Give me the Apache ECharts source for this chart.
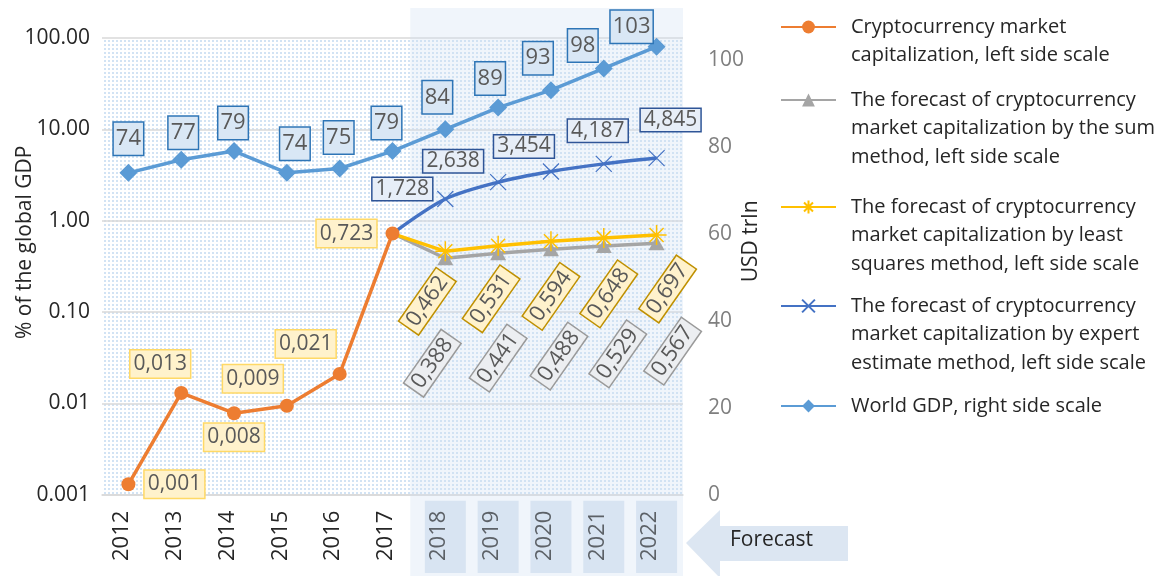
<!DOCTYPE html>
<html><head><meta charset="utf-8">
<script src="https://cdn.jsdelivr.net/npm/echarts@6/dist/echarts.min.js"></script>
<style>html,body{margin:0;padding:0;background:#fff}#c{width:1174px;height:576px}</style>
</head><body><div id="c"></div>
<script>
// ---------- data ----------
const years = ['2012','2013','2014','2015','2016','2017','2018','2019','2020','2021','2022'];
const forecastYears = ['2018','2019','2020','2021','2022'];
const cryptoCap      = [0.0013, 0.013, 0.0078, 0.0094, 0.021, 0.723, null, null, null, null, null];
const sumForecast    = [null, null, null, null, null, 0.723, 0.388, 0.441, 0.488, 0.529, 0.567];
const lsqForecast    = [null, null, null, null, null, 0.723, 0.462, 0.531, 0.594, 0.648, 0.697];
const expertForecast = [null, null, null, null, null, 0.723, 1.728, 2.638, 3.454, 4.187, 4.845];
const worldGdp       = [74, 77, 79, 74, 75, 79, 84, 89, 93, 98, 103];
const leftTickValues = [0.001, 0.01, 0.1, 1, 10, 100];
const leftTickLabels = ['0.001', '0.01', '0.10', '1.00', '10.00', '100.00'];
const rightAxisName = 'USD trln';
const leftAxisName = '% of the global GDP';
const forecastText = 'Forecast';
const seriesNames = [
  'Cryptocurrency market\ncapitalization, left side scale',
  'The forecast of cryptocurrency\nmarket capitalization by the sum\nmethod, left side scale',
  'The forecast of cryptocurrency\nmarket capitalization by least\nsquares method, left side scale',
  'The forecast of cryptocurrency\nmarket capitalization by expert\nestimate method, left side scale',
  'World GDP, right side scale'
];

// ---------- styling / layout config ----------
const FONT = '"Open Sans", "Noto Sans", sans-serif';
const TXT = '#595959';
const C = { orange:'#ed7d31', gray:'#a5a5a5', yellow:'#ffc000', dblue:'#4472c4', lblue:'#5b9bd5' };
const ROT = 55;
const offs = {
  crypto: [[46,0],[-21,-29],[0,24],[-34,-27],[-34,-30],[-46,0]],
  sum:    [null,null,null,null,null,null,[-13,105],[0,105],[8,107],[14,108],[16,108]],
  lsq:    [null,null,null,null,null,null,[-18,50],[-7,53],[0,55],[5,56],[11,54]],
  expert: [null,null,null,null,null,null,[-43,-10],[-45,-21],[-27,-25],[-6,-33],[14,-38]],
  gdp:    [[0,-34],[2,-27],[-1,-28],[8,-29],[-1,-31],[-6,-28],[-8,-32],[-8,-29],[-13,-32],[-21,-23],[-25,-20]]
};
const dec3 = v => Number(v).toFixed(3).replace('.', ',');

// convert a screen-space offset into the rotated label's local frame
function toLocal(o, deg) {
  if (!deg) return o;
  const t = deg * Math.PI / 180, c = Math.cos(t), s = Math.sin(t);
  return [o[0] * c - o[1] * s, o[0] * s + o[1] * c];
}

function buildData(values, offsets, hideIdx, rot) {
  return values.map((v, i) => {
    if (v == null) return '-';
    if (i === hideIdx) return { value: v, symbol: 'none', label: { show: false } };
    const o = offsets[i] || [0, 0];
    return { value: v, label: { offset: toLocal(o, rot) } };
  });
}

// dotted pattern for plot area
const pc = document.createElement('canvas');
pc.width = 4; pc.height = 4;
const pctx = pc.getContext('2d');
pctx.fillStyle = '#ffffff'; pctx.fillRect(0,0,4,4);
pctx.fillStyle = '#d2e3f4'; pctx.fillRect(0,0,2,2);

function labelBox(bg, border, fs, pad, rot) {
  return {
    show: true, position: 'inside', color: TXT, fontFamily: FONT, fontSize: fs,
    backgroundColor: bg, borderColor: border, borderWidth: 1.5, padding: pad,
    rotate: rot || 0, formatter: p => dec3(p.value)
  };
}

const chart = echarts.init(document.getElementById('c'), null, { renderer: 'canvas' });

const legendTops = [27, 100, 207, 306, 406];
const LH = 28.5;
const legends = seriesNames.map((nm, k) => {
  const n = nm.split('\n').length;
  return {
    orient: 'vertical', left: 780, top: legendTops[k] - (2 * n - 1) * LH / 2,
    padding: 0, itemWidth: 55, itemHeight: 16, selectedMode: false,
    data: [nm],
    formatter: name => '\n'.repeat(n - 1) + name,
    textStyle: { fontFamily: FONT, fontSize: 20, lineHeight: LH, color: '#262626', padding: [0,0,0,10] }
  };
});

const option = {
  animation: false,
  backgroundColor: '#ffffff',
  textStyle: { fontFamily: FONT },
  legend: legends,
  grid: { left: 102, right: 491, top: 38, bottom: 79, show: true, borderWidth: 0,
          backgroundColor: { image: pc, repeat: 'repeat' } },
  xAxis: {
    type: 'category', data: years, boundaryGap: true,
    axisLine: { lineStyle: { color: '#d9d9d9', width: 1.5 } },
    axisTick: { show: false },
    axisLabel: {
      rotate: 90, margin: 6, interval: 0,
      formatter: v => forecastYears.includes(v) ? '{h|' + v + '}' : '{n|' + v + '}',
      rich: {
        n: { fontFamily: FONT, fontSize: 22, color: '#262626', padding: [3, 10, 16, 12] },
        h: { fontFamily: FONT, fontSize: 22, color: '#262626', padding: [3, 10, 16, 12], backgroundColor: '#dce6f2' }
      }
    }
  },
  yAxis: [
    {
      type: 'log', logBase: 10, min: 0.001, max: 100,
      name: leftAxisName, nameLocation: 'middle', nameGap: 66, nameRotate: 90, nameMoveOverlap: false,
      nameTextStyle: { fontFamily: FONT, fontSize: 21, color: '#262626', padding: [0,0,0,48] },
      axisLine: { show: false }, axisTick: { show: false },
      splitLine: { lineStyle: { color: '#d9d9d9', width: 1.5 } },
      axisLabel: {
        fontFamily: FONT, fontSize: 21, color: '#262626', margin: 12,
        formatter: v => {
          const i = leftTickValues.findIndex(t => Math.abs(Math.log10(t) - Math.log10(v)) < 1e-6);
          return i >= 0 ? leftTickLabels[i] : '';
        }
      }
    },
    {
      type: 'value', min: 0, max: 105, interval: 20, position: 'right',
      name: rightAxisName, nameLocation: 'middle', nameGap: 58, nameRotate: 90, nameMoveOverlap: false,
      nameTextStyle: { fontFamily: FONT, fontSize: 21, color: '#262626', padding: [0,0,0,50] },
      axisLine: { show: false }, axisTick: { show: false }, splitLine: { show: false },
      axisLabel: { fontFamily: FONT, fontSize: 21, color: '#7f7f7f', margin: 25, showMaxLabel: false }
    }
  ],
  series: [
    {
      name: seriesNames[0], type: 'line', yAxisIndex: 0, z: 5,
      data: buildData(cryptoCap, offs.crypto, -1, 0),
      symbol: 'circle', symbolSize: 14,
      lineStyle: { color: C.orange, width: 3.5 }, itemStyle: { color: C.orange },
      label: labelBox('#fff2cc', '#ffd966', 21, [4, 3, 2, 3])
    },
    {
      name: seriesNames[1], type: 'line', yAxisIndex: 0, z: 3,
      data: buildData(sumForecast, offs.sum, 5, ROT),
      symbol: 'triangle', symbolSize: [16, 14],
      lineStyle: { color: C.gray, width: 3.5 }, itemStyle: { color: C.gray },
      label: labelBox('#eceef1', '#9a9a9a', 22, [1, 4, 0, 4], ROT)
    },
    {
      name: seriesNames[2], type: 'line', yAxisIndex: 0, z: 4,
      data: buildData(lsqForecast, offs.lsq, 5, ROT),
      symbol: 'path://M0,-10L0,10M-10,0L10,0M-7,-7L7,7M-7,7L7,-7', symbolSize: 20,
      lineStyle: { color: C.yellow, width: 3.5 },
      itemStyle: { color: C.yellow, borderColor: C.yellow, borderWidth: 1.5 },
      label: labelBox('#fff2cc', '#bf9000', 22, [1, 4, 0, 4], ROT)
    },
    {
      name: seriesNames[3], type: 'line', yAxisIndex: 0, z: 4, smooth: 0.3,
      data: buildData(expertForecast, offs.expert, 5, 0),
      symbol: 'path://M-1,-1L1,1M-1,1L1,-1', symbolSize: 16,
      lineStyle: { color: C.dblue, width: 3.5 },
      itemStyle: { color: C.dblue, borderColor: C.dblue, borderWidth: 1.2 },
      label: labelBox('#e7eef8', '#2f5597', 21, [1, 3, 0, 3])
    },
    {
      name: seriesNames[4], type: 'line', yAxisIndex: 1, z: 4,
      data: buildData(worldGdp, offs.gdp, -1, 0),
      symbol: 'diamond', symbolSize: 18,
      lineStyle: { color: C.lblue, width: 3.5 }, itemStyle: { color: C.lblue },
      label: Object.assign(labelBox('#d9e7f5', '#2e75b6', 22, [6, 2, 4, 2]), { formatter: p => String(p.value) })
    }
  ]
};
chart.setOption(option);

// decorations: forecast band and arrow
const x2018 = chart.convertToPixel({ xAxisIndex: 0 }, '2018');
const gridRight = chart.getWidth() - 491;
chart.setOption({
  graphic: [
    { type: 'rect', silent: true, z: 1,
      shape: { x: x2018 - 35, y: 8, width: gridRight - (x2018 - 35), height: 576 },
      style: { fill: 'rgba(208,224,242,0.32)' } },
    { type: 'polygon', silent: true, z: 1,
      shape: { points: [[686,543],[720,510],[720,526],[848,526],[848,561],[720,561],[720,578],[686,543]] },
      style: { fill: '#dce6f2' } },
    { type: 'text', silent: true, z: 2, left: 730, top: 530,
      style: { text: forecastText, fontFamily: FONT, fontSize: 21, fill: '#262626' } }
  ]
});
</script></body></html>
